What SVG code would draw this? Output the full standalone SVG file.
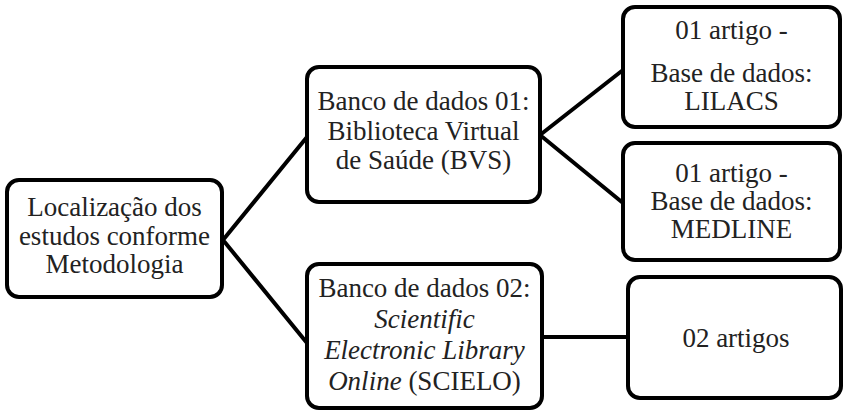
<svg xmlns="http://www.w3.org/2000/svg" width="844" height="413" viewBox="0 0 844 413">
<style>
.box{fill:#fff;stroke:#000;stroke-width:4}
.t{font-family:"Liberation Serif","Times New Roman",serif;font-size:27px;fill:#222;text-anchor:middle}
.i{font-style:italic}
.c{stroke:#000;stroke-width:4;fill:none;stroke-linecap:round}
</style>
<rect width="844" height="413" fill="#fff"/>
<g id="connectors">
<path class="c" d="M223 240 L307 137 M223 240 L307 343"/>
<path class="c" d="M540 135 L623 70 M540 135 L623 203"/>
<path class="c" d="M543 337 L628 337"/>
</g>
<g id="n1">
<rect class="box" x="7" y="180" width="215" height="117" rx="12"/>
<text class="t" x="114.5" y="216">Localização dos</text>
<text class="t" x="114.5" y="245">estudos conforme</text>
<text class="t" x="114.5" y="273">Metodologia</text>
</g>
<g id="n2">
<rect class="box" x="307" y="67" width="233" height="135" rx="12"/>
<text class="t" x="423.5" y="110">Banco de dados 01:</text>
<text class="t" x="423.5" y="140">Biblioteca Virtual</text>
<text class="t" x="423.5" y="169">de Saúde (BVS)</text>
</g>
<g id="n3">
<rect class="box" x="307" y="264" width="235" height="144" rx="12"/>
<text class="t" x="424.5" y="297">Banco de dados 02:</text>
<text class="t i" x="424.5" y="328">Scientific</text>
<text class="t i" x="424.5" y="359">Electronic Library</text>
<text class="t" x="424.5" y="390"><tspan class="i">Online</tspan> (SCIELO)</text>
</g>
<g id="n4">
<rect class="box" x="623" y="7" width="217" height="120" rx="12"/>
<text class="t" x="731.5" y="39">01 artigo -</text>
<text class="t" x="731.5" y="82">Base de dados:</text>
<text class="t" x="731.5" y="110">LILACS</text>
</g>
<g id="n5">
<rect class="box" x="623" y="143" width="217" height="117" rx="12"/>
<text class="t" x="731.5" y="182">01 artigo -</text>
<text class="t" x="731.5" y="210">Base de dados:</text>
<text class="t" x="731.5" y="238">MEDLINE</text>
</g>
<g id="n6">
<rect class="box" x="628" y="277" width="213" height="121" rx="12"/>
<text class="t" x="736" y="347">02 artigos</text>
</g>
</svg>
